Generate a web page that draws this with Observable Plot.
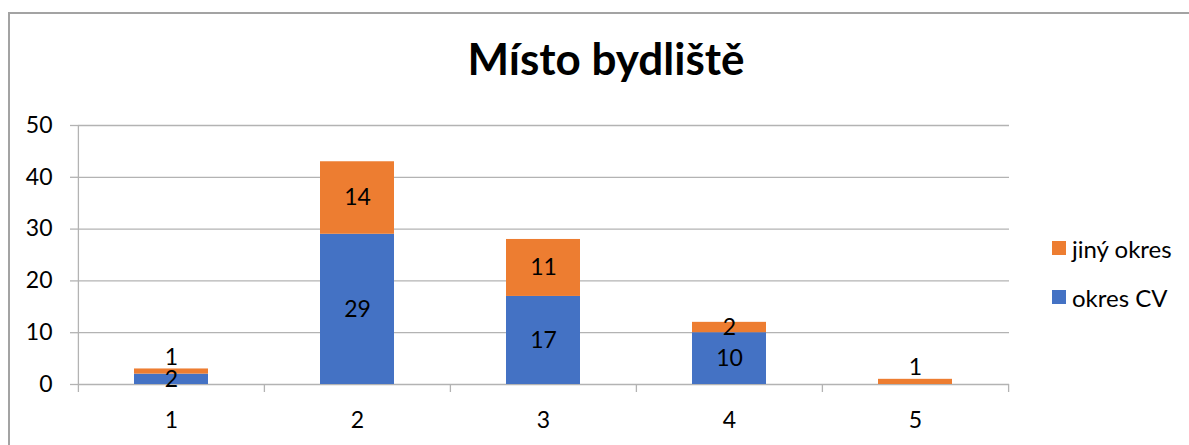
<!DOCTYPE html>
<html>
<head>
<meta charset="utf-8">
<script src="https://cdn.jsdelivr.net/npm/d3@7"></script>
<script src="https://cdn.jsdelivr.net/npm/@observablehq/plot@0.6"></script>
<style>
  html, body { margin: 0; padding: 0; background: #fff; overflow: hidden; }
  #wrap { position: relative; width: 1189px; height: 445px; overflow: hidden; font-family: Lato, "Open Sans", sans-serif; }
  #frame { position: absolute; left: 8px; top: 12px; width: 1220px; height: 500px; border: 2px solid #a3a3a3; box-sizing: border-box; }
  #title { position: absolute; left: 0; width: 1212px; top: 32px; text-align: center; font-weight: 700; font-size: 44px; color: #000; }
  #chart { position: absolute; left: 0; top: 0; }
  #legend { position: absolute; left: 1052px; top: 232px; font-size: 24px; color: #000; }
  .row { display: flex; align-items: center; height: 32px; margin-bottom: 17px; }
  .sw { width: 14px; height: 14px; margin-right: 6px; }
</style>
</head>
<body>
<div id="wrap">
  <div id="frame"></div>
  <div id="title"></div>
  <div id="chart"></div>
  <div id="legend"></div>
</div>
<script>
const title = "Místo bydliště";
const categories = ["1", "2", "3", "4", "5"];
const series = ["okres CV", "jiný okres"];
const colors = ["#4472C4", "#ED7D31"];
const okresCV = [2, 29, 17, 10, 0];
const jinyOkres = [1, 14, 11, 2, 1];
const yTicks = [0, 10, 20, 30, 40, 50];
const legendOrder = ["jiný okres", "okres CV"];

const values = {"okres CV": okresCV, "jiný okres": jinyOkres};
const data = [];
categories.forEach((c, i) => {
  series.forEach(s => data.push({cat: c, series: s, value: values[s][i]}));
});

const W = 1189, H = 445;
const mL = 78, mR = 180, mT = 125, mB = 61;
const step = (W - mL - mR) / categories.length;
const gridColor = "#b3b3b3";
const font = "Lato, 'Open Sans', sans-serif";

const chart = Plot.plot({
  width: W,
  height: H,
  marginLeft: mL,
  marginRight: mR,
  marginTop: mT,
  marginBottom: mB,
  style: {fontFamily: font, fontSize: "23px", color: "#000", background: "transparent"},
  x: {domain: categories, paddingInner: 0.6, paddingOuter: 0.3, label: null},
  y: {domain: [0, 50], label: null},
  color: {domain: series, range: colors},
  marks: [
    Plot.gridY(yTicks, {stroke: gridColor, strokeOpacity: 1, strokeWidth: 1.3}),
    Plot.ruleX([categories[0]], {x: d => d, dx: -step / 2, y1: 0, y2: 50, stroke: gridColor, strokeWidth: 1.3}),
    Plot.ruleX(categories, {x: d => d, dx: -step / 2, y1: 0, y2: 0, insetBottom: -8, stroke: gridColor, strokeWidth: 1.3}),
    Plot.ruleX([categories[categories.length - 1]], {x: d => d, dx: step / 2, y1: 0, y2: 0, insetBottom: -8, stroke: gridColor, strokeWidth: 1.3}),
    Plot.axisY(yTicks, {tickSize: 8, tickPadding: 18, stroke: gridColor, strokeWidth: 1.3, fontSize: 23, label: null}),
    Plot.axisX({tickSize: 0, tickPadding: 27, fontSize: 23, label: null}),
    Plot.barY(data, {x: "cat", y: "value", fill: "series"}),
    Plot.text(data, Plot.stackY({x: "cat", y: "value", text: d => d.value >= 2 ? String(d.value) : null, fontSize: 23, fill: "#000"})),
    Plot.text(data, Plot.stackY({x: "cat", y: "value", text: d => d.value > 0 && d.value < 2 ? String(d.value) : null, dy: -14, fontSize: 23, fill: "#000"}))
  ]
});
document.getElementById("chart").appendChild(chart);
document.getElementById("title").textContent = title;

const legend = document.getElementById("legend");
legendOrder.forEach(s => {
  const row = document.createElement("div");
  row.className = "row";
  const sw = document.createElement("div");
  sw.className = "sw";
  sw.style.background = colors[series.indexOf(s)];
  const t = document.createElement("span");
  t.textContent = s;
  row.appendChild(sw);
  row.appendChild(t);
  legend.appendChild(row);
});
</script>
</body>
</html>
